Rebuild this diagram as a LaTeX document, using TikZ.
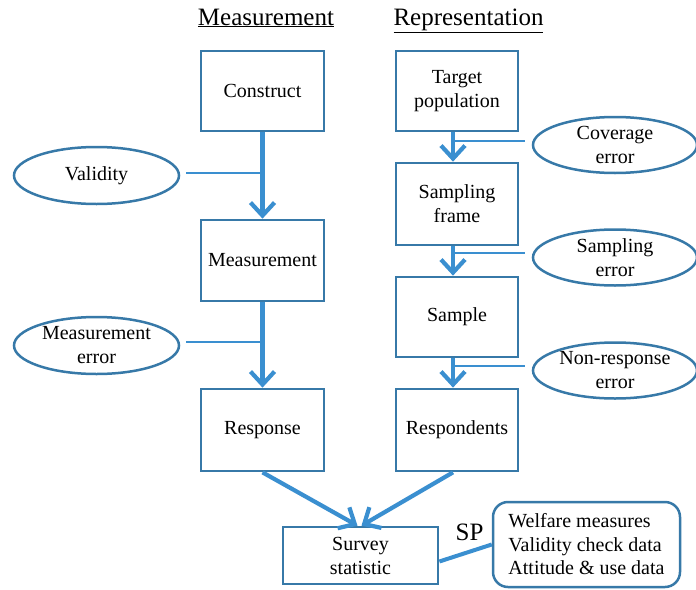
\documentclass[tikz,border=0pt]{standalone}
\usepackage{fontspec}
\setmainfont{Liberation Serif}
\usetikzlibrary{arrows.meta,shapes.geometric,calc}
\definecolor{boxc}{RGB}{55,121,168}
\definecolor{arrc}{RGB}{58,143,208}
\begin{document}
\begin{tikzpicture}[x=1pt,y=-1pt,
 stepbox/.style={draw=boxc,line width=2.7pt,minimum width=123pt,inner sep=0pt,align=center,font=\fontsize{20}{24}\selectfont},
 errell/.style={draw=boxc,ellipse,line width=2.5pt,minimum width=165pt,minimum height=57pt,inner sep=0pt,align=center,font=\fontsize{20}{24}\selectfont},
 flow/.style={draw=arrc,line width=4.2pt,-{Straight Barb[length=13pt,width=24pt]}},
 tie/.style={draw=arrc,line width=1.6pt},
 head/.style={font=\fontsize{25}{30}\selectfont,anchor=base,inner sep=0pt}]
\useasboundingbox (0,0) rectangle (696,589);

% headings
\node[head] (hm) at (266,25) {\underline{Measurement}};
\node[head] (hr) at (468.5,25) {\underline{Representation}};

% measurement column
\node[stepbox,minimum height=80pt] (con) at (262.5,91) {Construct};
\node[stepbox,minimum height=81pt] (mea) at (262.5,260.5) {Measurement};
\node[stepbox,minimum height=82pt] (rsp) at (262.5,430) {Response};

% representation column
\node[stepbox,minimum width=122pt,minimum height=80pt] (tp) at (457,91) {Target\\population};
\node[stepbox,minimum width=122pt,minimum height=82pt] (sf) at (457,204) {Sampling\\frame};
\node[stepbox,minimum width=122pt,minimum height=80pt] (sa) at (457,317) {Sample};
\node[stepbox,minimum width=122pt,minimum height=82pt] (rd) at (457,430) {Respondents};

% survey statistic
\node[stepbox,minimum width=155pt,minimum height=57pt] (ss) at (360.5,555.5) {Survey\\statistic};

% output box
\node[draw=boxc,line width=2.5pt,rounded corners=15pt,minimum width=187pt,minimum height=85pt,inner sep=0pt,align=left,font=\fontsize{20}{23.5}\selectfont] (out) at (586.5,544.5) {Welfare measures\\Validity check data\\Attitude \& use data};

% error ellipses
\node[errell] (val) at (96.5,175.5) {Validity};
\node[errell] (me) at (96.5,345.5) {Measurement\\error};
\node[errell,minimum width=164pt,minimum height=56pt] (ce) at (615,145) {Coverage\\error};
\node[errell,minimum width=164pt,minimum height=56pt] (se) at (615,257.5) {Sampling\\error};
\node[errell,minimum width=164pt,minimum height=56pt] (ne) at (615,370.5) {Non-response\\error};

% flow arrows
\draw[flow] (con.south) -- (mea.north);
\draw[flow] (mea.south) -- (rsp.north);
\draw[flow] ([xshift=-4pt]tp.south) -- ([xshift=-4pt]sf.north);
\draw[flow] ([xshift=-4pt]sf.south) -- ([xshift=-4pt]sa.north);
\draw[flow] ([xshift=-4pt]sa.south) -- ([xshift=-4pt]rd.north);
\draw[flow] (rsp.south) -- ([xshift=-3pt]ss.north);
\draw[flow] ([xshift=-4pt]rd.south) -- ([xshift=1pt]ss.north);

% error ties
\coordinate (vt) at (260.5,173);
\coordinate (mt) at (260.5,342);
\coordinate (ct) at (453,141);
\coordinate (st) at (453,253);
\coordinate (nt) at (453,366);
\draw[tie] ([xshift=6pt]val.east |- vt) -- (vt);
\draw[tie] ([xshift=6pt]me.east |- mt) -- (mt);
\draw[tie] (ct) -- ([xshift=-7pt]ce.west |- ct);
\draw[tie] (st) -- ([xshift=-7pt]se.west |- st);
\draw[tie] (nt) -- ([xshift=-7pt]ne.west |- nt);

% SP link
\draw[draw=arrc,line width=4pt] ([yshift=-6pt]ss.east) -- ([yshift=0pt]out.west);
\node[font=\fontsize{25}{30}\selectfont,inner sep=0pt] (sp) at (469.5,532) {SP};
\end{tikzpicture}
\end{document}
